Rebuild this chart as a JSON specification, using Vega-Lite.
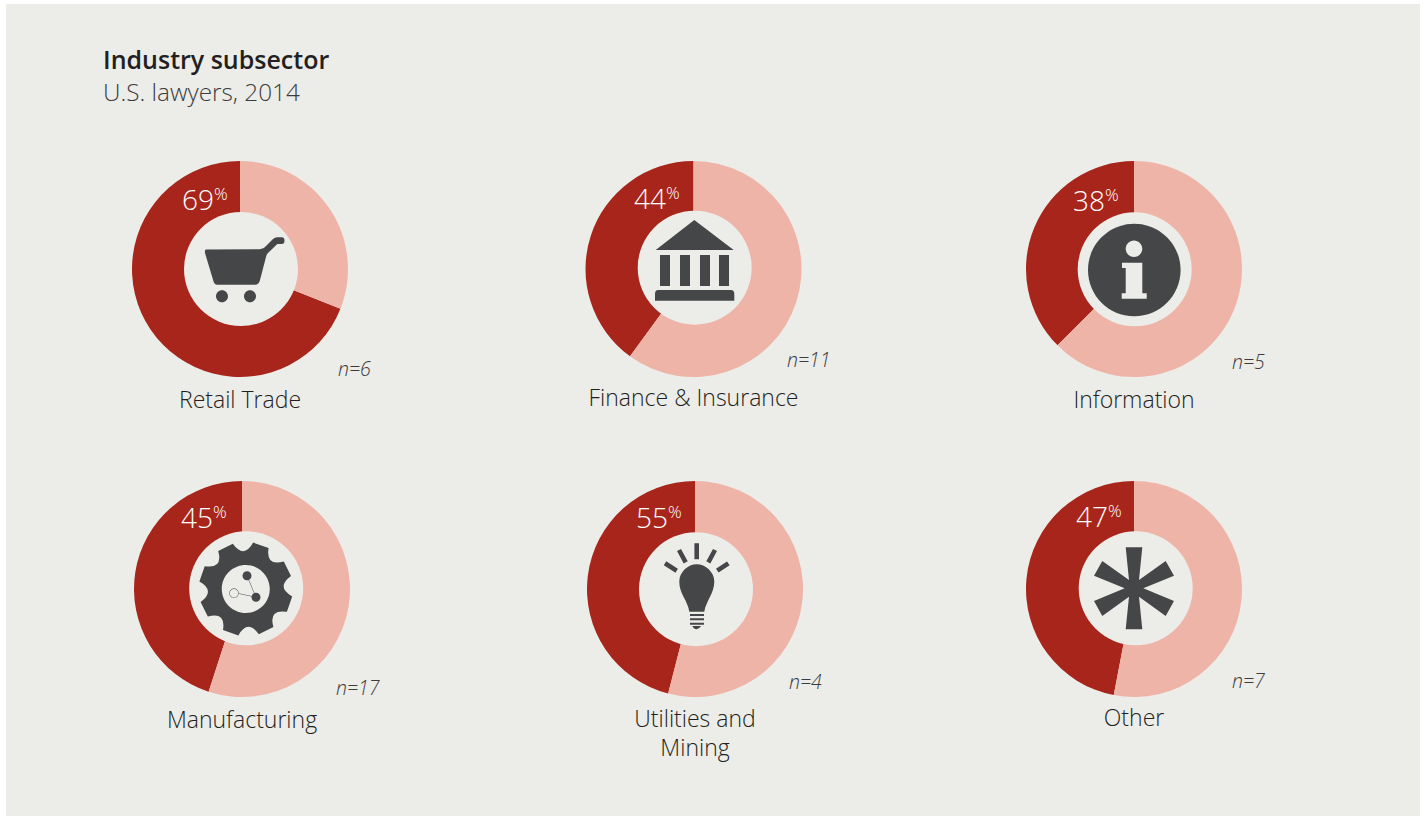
{
"$schema":"https://vega.github.io/schema/vega-lite/v6.json",
"width":1414,"height":812,"autosize":{"type":"none"},
"padding":{"left":6,"top":4,"right":6,"bottom":0},
"background":"#ffffff",
"config":{"view":{"fill":"#ecece8","stroke":null},"font":"Open Sans"},
"title":{"text":"Industry subsector","subtitle":"U.S. lawyers, 2014","anchor":"start","frame":"group","offset":-102,"dx":97,"font":"Open Sans","fontSize":25,"fontWeight":600,"color":"#231f20","subtitleFont":"Open Sans","subtitleFontSize":24.3,"subtitleFontWeight":300,"subtitleColor":"#3c3c3c","subtitlePadding":8},
"datasets":{
"donuts":[
{"panel":1,"subsector":"Retail Trade","segment":"Share","value":69},{"panel":1,"subsector":"Retail Trade","segment":"Remainder","value":31},
{"panel":2,"subsector":"Finance & Insurance","segment":"Share","value":40},{"panel":2,"subsector":"Finance & Insurance","segment":"Remainder","value":60},
{"panel":3,"subsector":"Information","segment":"Share","value":37.5},{"panel":3,"subsector":"Information","segment":"Remainder","value":62.5},
{"panel":4,"subsector":"Manufacturing","segment":"Share","value":45},{"panel":4,"subsector":"Manufacturing","segment":"Remainder","value":55},
{"panel":5,"subsector":"Utilities and Mining","segment":"Share","value":46},{"panel":5,"subsector":"Utilities and Mining","segment":"Remainder","value":54},
{"panel":6,"subsector":"Other","segment":"Share","value":47},{"panel":6,"subsector":"Other","segment":"Remainder","value":53}],
"panels":[
{"panel":1,"name":"Retail Trade","pct":"69","n":"n=6","icon":"cart","unit":"%"},
{"panel":2,"name":"Finance & Insurance","pct":"44","n":"n=11","icon":"bank","unit":"%"},
{"panel":3,"name":"Information","pct":"38","n":"n=5","icon":"info","unit":"%"},
{"panel":4,"name":"Manufacturing","pct":"45","n":"n=17","icon":"gear","unit":"%"},
{"panel":5,"name":"Utilities and\nMining","pct":"55","n":"n=4","icon":"bulb","unit":"%"},
{"panel":6,"name":"Other","pct":"47","n":"n=7","icon":"star","unit":"%"}]
},
"resolve":{"scale":{"x":"independent","y":"independent"}},
"layer":[
{"data":{"name":"donuts"},
 "transform":[{"stack":"value","groupby":["panel"],"sort":[{"field":"segment","order":"ascending"}],"as":["v0","v1"]}],
 "mark":{"type":"arc","outerRadius":108,"innerRadius":45},
 "encoding":{
  "x":{"field":"panel","type":"quantitative","axis":null,"scale":{"domain":[1,2,3,4,5,6],"range":[234,687.5,1128,236,689,1128],"zero":false,"nice":false}},
  "y":{"field":"panel","type":"quantitative","axis":null,"scale":{"domain":[1,2,3,4,5,6],"range":[265,265,265,585,585,585],"zero":false,"nice":false}},
  "theta":{"field":"v0","type":"quantitative","scale":{"domain":[0,100]}},
  "theta2":{"field":"v1"},
  "color":{"field":"segment","type":"nominal","legend":null,"scale":{"domain":["Share","Remainder"],"range":["#a7251a","#efb4a8"]}}
 }},
{"data":{"name":"panels"},
 "mark":{"type":"point","filled":true,"shape":"circle","size":12996,"color":"#ecece8","opacity":1},
 "encoding":{
  "x":{"field":"panel","type":"quantitative","axis":null,"scale":{"domain":[1,2,3,4,5,6],"range":[235,688.7,1128.7,240.2,690,1129.7],"zero":false,"nice":false}},
  "y":{"field":"panel","type":"quantitative","axis":null,"scale":{"domain":[1,2,3,4,5,6],"range":[265,263.7,265.3,584.3,585.2,584.3],"zero":false,"nice":false}}
 }},
{"data":{"name":"panels"},
 "mark":{"type":"point","filled":true,"size":4,"color":"#454648","opacity":1},
 "encoding":{
  "x":{"field":"panel","type":"quantitative","axis":null,"scale":{"domain":[1,2,3,4,5,6],"range":[234,687,1128,239.8,689,1128],"zero":false,"nice":false}},
  "y":{"field":"panel","type":"quantitative","axis":null,"scale":{"domain":[1,2,3,4,5,6],"range":[265,265,265,585,585,585],"zero":false,"nice":false}},
  "shape":{"field":"icon","type":"nominal","legend":null,"scale":{"domain":["cart","bank","info","gear","bulb","star"],"range":[
   "M-34 -19.5 L20 -19.7 Q24 -20 26 -23 L33 -30 Q35 -31.7 37 -31.7 L41.7 -31.7 Q44.5 -31.7 44.5 -28.3 Q44.5 -25 41.7 -25 L37.3 -25 L29 -17 Q26.5 -15 26 -12 L20 11 Q19 15.7 15 15.7 L-22.7 15.7 Q-25.7 15.7 -26.7 11.7 L-35 -16 Q-35.5 -19.5 -34 -19.5Z M-24 27.3 A6 6 0 1 0 -12 27.3 A6 6 0 1 0 -24 27.3Z M4 27.3 A6 6 0 1 0 16 27.3 A6 6 0 1 0 4 27.3Z",
   "M1.3 -49 L40.7 -19 L-37.3 -19Z M-33 -14 L-23 -14 L-23 17 L-33 17Z M-13 -14 L-3 -14 L-3 17 L-13 17Z M7 -14 L17 -14 L17 17 L7 17Z M26 -14 L36 -14 L36 17 L26 17Z M-35 21 L38 21 Q41.3 21 41.3 25 L41.3 31.7 L-38 31.7 L-38 25 Q-38 21 -35 21Z",
   "M-46 1 A46.3 46.3 0 1 1 46.6 1 A46.3 46.3 0 1 1 -46 1Z M-12 -6.3 L-12 -1 L-8.3 -1 L-8.3 24.3 L-12.3 24.3 L-12.3 29.7 L12.7 29.7 L12.7 24.3 L8.3 24.3 L8.3 -6.3Z M-8.3 -20.3 A8.3 8.3 0 1 0 8.3 -20.3 A8.3 8.3 0 1 0 -8.3 -20.3Z",
   "M7.4 -46.4 L22.8 -41.1 Q19.8 -22.5 38 -27.6 L45.2 -13 Q29.9 -1.8 46.4 7.4 L41.1 22.8 Q22.5 19.8 27.6 38 L13 45.2 Q1.8 29.9 -7.4 46.4 L-22.8 41.1 Q-19.8 22.5 -38 27.6 L-45.2 13 Q-29.9 1.8 -46.4 -7.4 L-41.1 -22.8 Q-22.5 -19.8 -27.6 -38 L-13 -45.2 Q-1.8 -29.9 7.4 -46.4Z M-24 0 A24 24 0 1 0 24 0 A24 24 0 1 0 -24 0Z M-3.3 -13.3 A4.5 4.5 0 1 1 5.7 -13.3 A4.5 4.5 0 1 1 -3.3 -13.3Z M5.7 8.3 A4.5 4.5 0 1 1 14.7 8.3 A4.5 4.5 0 1 1 5.7 8.3Z M-16.5 4.3 A4.7 4.7 0 1 1 -7.1 4.3 A4.7 4.7 0 1 1 -16.5 4.3Z M-16.1 4.3 A4.3 4.3 0 1 0 -7.5 4.3 A4.3 4.3 0 1 0 -16.1 4.3Z M1.4 -13.4 L10.4 8.2 L10 8.4 L1 -13.2Z M-7.2 4.3 L10.2 8.1 L10.2 8.5 L-7.2 4.7Z",
   "M-5.7 22.7 C-7 12 -16 4 -15.7 -7.3 C-15.7 -17 -7 -24.7 1.7 -24.7 C10.5 -24.7 19.3 -17 19.3 -7.3 C19.3 4 11 12 9.3 22.7Z M-5 25 L9 25 L9 27 L-5 27Z M-5 29.3 L9 29.3 L9 31.3 L-5 31.3Z M-5 33.7 L9 33.7 L9 35.7 L-5 35.7Z M-2.7 37 L6 37 Q4 40.3 1.7 40.3 Q-1 40.3 -2.7 37Z M-0.6 -45.7 L4 -45.7 L4 -29.7 L-0.6 -29.7Z M-14 -40.1 L-7.3 -27.8 L-11.3 -25.6 L-18 -37.9Z M22 -37.9 L15.3 -25.6 L11.3 -27.8 L18 -40.1Z M-28.8 -27.7 L-17.1 -20.3 L-19.5 -16.3 L-31.2 -23.7Z M34.6 -23.8 L23.6 -16.4 L21 -20.2 L32 -27.6Z",
   "M-8.3 -41.7 L8.3 -41.7 L5 -9 L31.7 -28 L40 -13.3 L9.3 -0.7 L40 12 L31.7 27 L5 7.7 L8.3 40.3 L-8.3 40.3 L-5 7.7 L-31.7 27 L-40 12 L-9.3 -0.7 L-40 -13.3 L-31.7 -28 L-5 -9Z"
  ]}}
 }},
{"data":{"name":"panels"},
 "mark":{"type":"text","align":"center","baseline":"alphabetic","font":"Open Sans","fontSize":23,"fontWeight":300,"color":"#231f20","lineBreak":"\n","lineHeight":29},
 "encoding":{
  "x":{"field":"panel","type":"quantitative","axis":null,"scale":{"domain":[1,2,3,4,5,6],"range":[234,687.5,1128,236,689,1128],"zero":false,"nice":false}},
  "y":{"field":"panel","type":"quantitative","axis":null,"scale":{"domain":[1,2,3,4,5,6],"range":[404,402,404,724,723,722],"zero":false,"nice":false}},
  "text":{"field":"name","type":"nominal"}
 }},
{"data":{"name":"panels"},
 "mark":{"type":"text","align":"left","baseline":"alphabetic","font":"Open Sans","fontSize":19.5,"fontWeight":300,"fontStyle":"italic","color":"#3c3c3c"},
 "encoding":{
  "x":{"field":"panel","type":"quantitative","axis":null,"scale":{"domain":[1,2,3,4,5,6],"range":[332,781,1226,330,783,1226],"zero":false,"nice":false}},
  "y":{"field":"panel","type":"quantitative","axis":null,"scale":{"domain":[1,2,3,4,5,6],"range":[372,363,365,691,685,684],"zero":false,"nice":false}},
  "text":{"field":"n","type":"nominal"}
 }},
{"data":{"name":"panels"},
 "mark":{"type":"text","align":"right","baseline":"alphabetic","font":"Open Sans","fontSize":28,"fontWeight":300,"color":"#ffffff"},
 "encoding":{
  "x":{"field":"panel","type":"quantitative","axis":null,"scale":{"domain":[1,2,3,4,5,6],"range":[208,660,1099,207,662,1102],"zero":false,"nice":false}},
  "y":{"field":"panel","type":"quantitative","axis":null,"scale":{"domain":[1,2,3,4,5,6],"range":[206,205,207,524,524,523],"zero":false,"nice":false}},
  "text":{"field":"pct","type":"nominal"}
 }},
{"data":{"name":"panels"},
 "mark":{"type":"text","align":"left","baseline":"alphabetic","font":"Open Sans","fontSize":17,"fontWeight":300,"color":"#ffffff"},
 "encoding":{
  "x":{"field":"panel","type":"quantitative","axis":null,"scale":{"domain":[1,2,3,4,5,6],"range":[208,660,1099,207,662,1102],"zero":false,"nice":false}},
  "y":{"field":"panel","type":"quantitative","axis":null,"scale":{"domain":[1,2,3,4,5,6],"range":[196,195,197,514,514,513],"zero":false,"nice":false}},
  "text":{"field":"unit","type":"nominal"}
 }}
]
}
